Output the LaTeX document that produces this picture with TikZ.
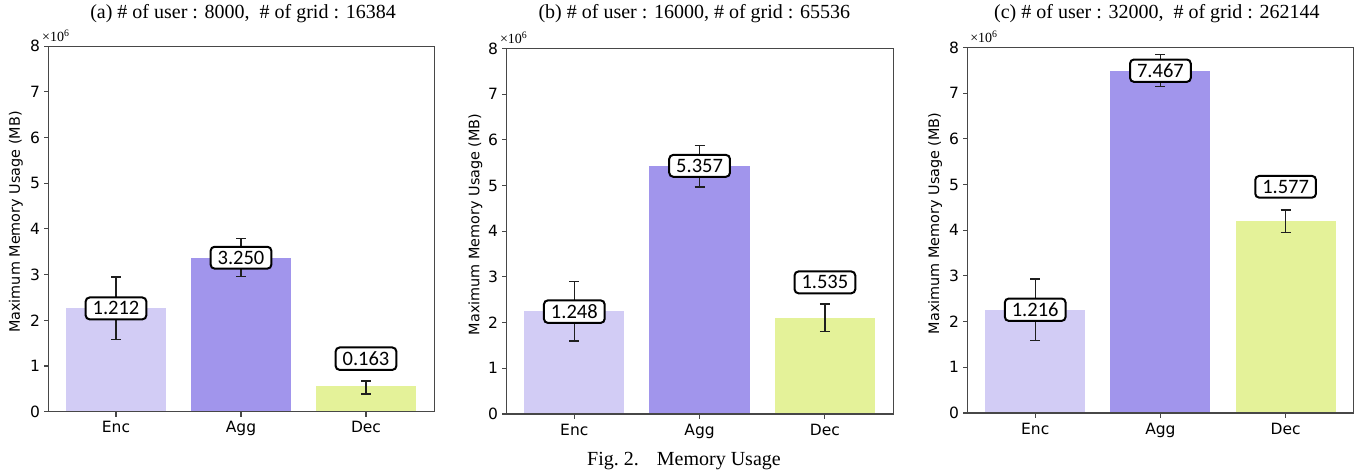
\documentclass[tikz,border=0pt]{standalone}
\usepackage{fontspec}
\setmainfont{Liberation Serif}
\newfontfamily\plotfont{DejaVu Sans}
\newfontfamily\boxfont{Carlito}
\usepackage{xcolor}

\definecolor{encbar}{RGB}{210,204,245}
\definecolor{aggbar}{RGB}{161,149,236}
\definecolor{decbar}{RGB}{228,242,153}

\tikzset{
  spine/.style={draw=black!72, line width=1.1pt},
  errbar/.style={draw=black!88, line width=1.4pt},
  ticklbl/.style={font=\plotfont\fontsize{15.5}{15.5}\selectfont, inner sep=0pt},
  axlbl/.style={font=\plotfont\fontsize{14.4}{14.4}\selectfont, inner sep=0pt, rotate=90},
  vallbl/.style={draw=black, line width=2pt, fill=white, rounded corners=4pt,
    inner xsep=7pt, inner ysep=4.2pt, font=\boxfont\fontsize{20.5}{20.5}\selectfont},
  expo/.style={font=\fontsize{14}{14}\selectfont, inner sep=0pt, anchor=base west},
  ptitle/.style={font=\fontsize{20}{24}\selectfont, inner sep=0pt, anchor=base}
}

\begin{document}
\begin{tikzpicture}[x=1pt, y=1pt]
  \useasboundingbox (0,0) rectangle (1364,474);
  %% (a)
  \begin{scope}[shift={(116,62.3)}, x=125pt, y=45.7pt]
    \fill[encbar] (-0.4,0) rectangle (0.4,2.26);
    \fill[aggbar] (0.6,0) rectangle (1.4,3.37);
    \fill[decbar] (1.6,0) rectangle (2.4,0.556);
    \draw[errbar] (0,1.58) -- (0,2.95) (-0.04,1.58) -- (0.04,1.58) (-0.04,2.95) -- (0.04,2.95);
    \draw[errbar] (1,2.96) -- (1,3.79) (0.96,2.96) -- (1.04,2.96) (0.96,3.79) -- (1.04,3.79);
    \draw[errbar] (2,0.39) -- (2,0.67) (1.96,0.39) -- (2.04,0.39) (1.96,0.67) -- (2.04,0.67);
    \node[vallbl] (enca) at (0,2.26) {1.212};
    \node[vallbl] (agga) at (1,3.37) {3.250};
    \node[vallbl] (deca) at (2,1.16) {0.163};
    \draw[spine] (-0.54,0) rectangle (2.545,8);
    \foreach \y in {0,...,8}
      \draw[spine] (-0.54,\y) -- ++(-5pt,0) node[ticklbl, left=3pt] (ya\y) {\y};
    \foreach \x/\t in {0/Enc,1/Agg,2/Dec} {
      \draw[spine] (\x,0) -- ++(0,-5pt);
      \node[ticklbl, anchor=base] (xa\x) at ([yshift=-21pt]\x,0) {\t};
    }
    \node[axlbl] (ylaba) at (-0.80,4.15) {Maximum Memory Usage (MB)};
    \node[expo] (expa) at (-0.592,8.10) {×10\textsuperscript{6}};
    \node[ptitle] (titlea) at (1.016,8.604) {(a) \# of user : 8000,~~\# of grid : 16384};
  \end{scope}
  %% (b)
  \begin{scope}[shift={(574.3,60)}, x=125.3pt, y=45.7pt]
    \fill[encbar] (-0.4,0) rectangle (0.4,2.26);
    \fill[aggbar] (0.6,0) rectangle (1.4,5.43);
    \fill[decbar] (1.6,0) rectangle (2.4,2.09);
    \draw[errbar] (0,1.60) -- (0,2.90) (-0.04,1.60) -- (0.04,1.60) (-0.04,2.90) -- (0.04,2.90);
    \draw[errbar] (1,4.97) -- (1,5.87) (0.96,4.97) -- (1.04,4.97) (0.96,5.87) -- (1.04,5.87);
    \draw[errbar] (2,1.80) -- (2,2.41) (1.96,1.80) -- (2.04,1.80) (1.96,2.41) -- (2.04,2.41);
    \node[vallbl] (encb) at (0,2.24) {1.248};
    \node[vallbl] (aggb) at (1,5.43) {5.357};
    \node[vallbl] (decb) at (2,2.88) {1.535};
    \draw[spine] (-0.54,0) rectangle (2.545,8);
    \foreach \y in {0,...,8}
      \draw[spine] (-0.54,\y) -- ++(-5pt,0) node[ticklbl, left=3pt] (yb\y) {\y};
    \foreach \x/\t in {0/Enc,1/Agg,2/Dec} {
      \draw[spine] (\x,0) -- ++(0,-5pt);
      \node[ticklbl, anchor=base] (xb\x) at ([yshift=-21pt]\x,0) {\t};
    }
    \node[axlbl] (ylabb) at (-0.79,4.15) {Maximum Memory Usage (MB)};
    \node[expo] (expb) at (-0.594,8.11) {×10\textsuperscript{6}};
    \node[ptitle] (titleb) at (0.958,8.654) {(b) \# of user : 16000, \# of grid : 65536};
  \end{scope}
  %% (c)
  \begin{scope}[shift={(1035.2,61)}, x=125.2pt, y=45.7pt]
    \fill[encbar] (-0.4,0) rectangle (0.4,2.25);
    \fill[aggbar] (0.6,0) rectangle (1.4,7.49);
    \fill[decbar] (1.6,0) rectangle (2.4,4.20);
    \draw[errbar] (0,1.58) -- (0,2.93) (-0.04,1.58) -- (0.04,1.58) (-0.04,2.93) -- (0.04,2.93);
    \draw[errbar] (1,7.15) -- (1,7.85) (0.96,7.15) -- (1.04,7.15) (0.96,7.85) -- (1.04,7.85);
    \draw[errbar] (2,3.95) -- (2,4.44) (1.96,3.95) -- (2.04,3.95) (1.96,4.44) -- (2.04,4.44);
    \node[vallbl] (encc) at (0,2.26) {1.216};
    \node[vallbl] (aggc) at (1,7.49) {7.467};
    \node[vallbl] (decc) at (2,4.95) {1.577};
    \draw[spine] (-0.54,0) rectangle (2.545,8);
    \foreach \y in {0,...,8}
      \draw[spine] (-0.54,\y) -- ++(-5pt,0) node[ticklbl, left=3pt] (yc\y) {\y};
    \foreach \x/\t in {0/Enc,1/Agg,2/Dec} {
      \draw[spine] (\x,0) -- ++(0,-5pt);
      \node[ticklbl, anchor=base] (xc\x) at ([yshift=-21pt]\x,0) {\t};
    }
    \node[axlbl] (ylabc) at (-0.80,4.15) {Maximum Memory Usage (MB)};
    \node[expo] (expc) at (-0.52,8.10) {×10\textsuperscript{6}};
    \node[ptitle] (titlec) at (0.972,8.632) {(c) \# of user : 32000,~~\# of grid : 262144};
  \end{scope}
  %% caption
  \node[ptitle] (caption) at (684,8.5) {Fig.~2.\hspace{0.9em}Memory Usage};
\end{tikzpicture}
\end{document}
